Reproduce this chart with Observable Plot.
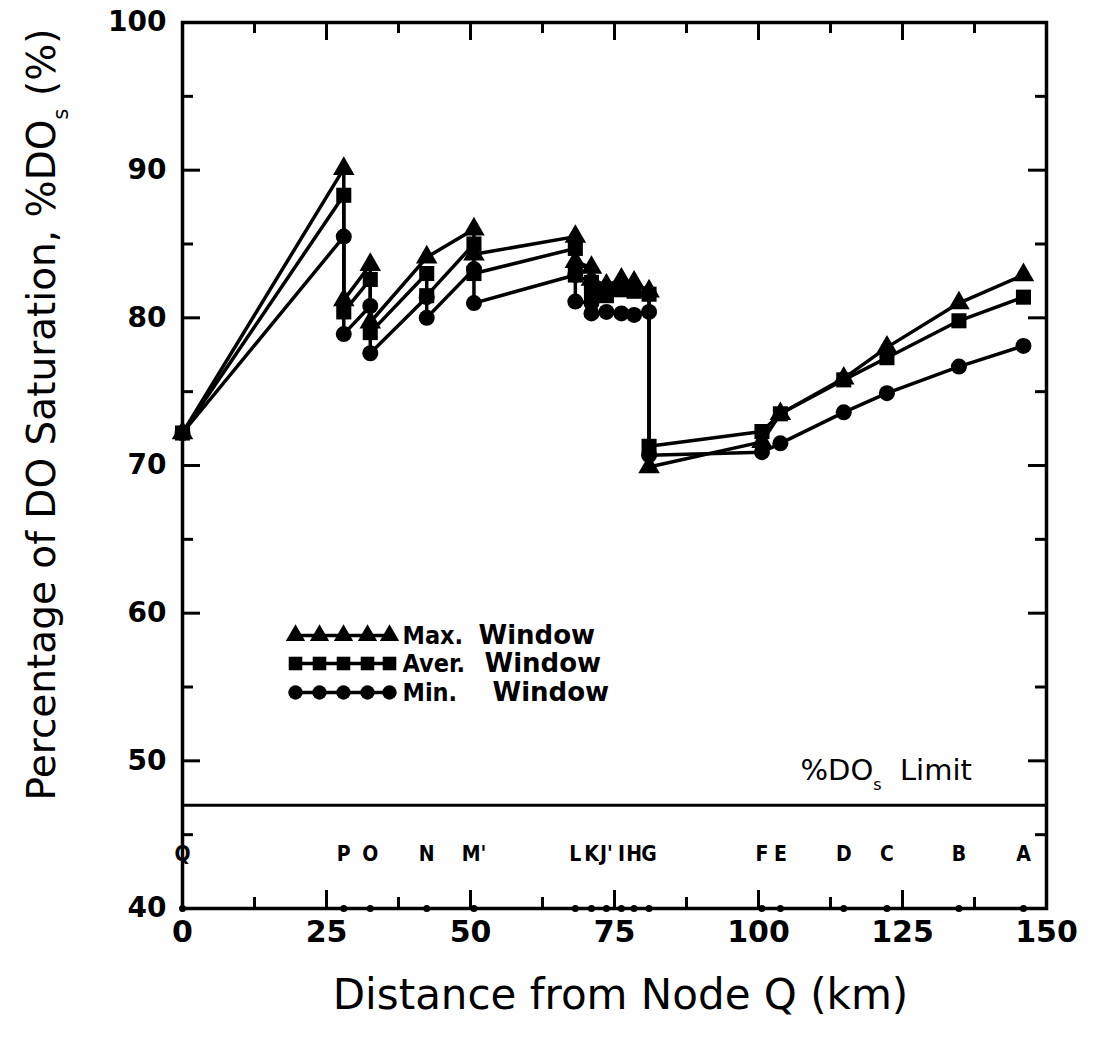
<!DOCTYPE html>
<html><head><meta charset="utf-8">
<script src="https://cdn.jsdelivr.net/npm/d3@7"></script>
<script src="https://cdn.jsdelivr.net/npm/@observablehq/plot@0.6"></script>
<style>html,body{margin:0;padding:0;background:#fff;} svg{display:block}</style>
</head><body><div id="chart"></div>
<script>
// ---- data ----
const nodes  = ["Q","P","O","N","M'","L","K","J'","I","H","G","F","E","D","C","B","A"];
const nodeKm = [0, 28, 32.6, 42.4, 50.6, 68.2, 71.0, 73.6, 76.2, 78.4, 81.0, 100.6, 103.8, 114.8, 122.3, 134.8, 146];
// value arriving at each node (In) and leaving it (Out)
const maxIn  = [72.2, 90.1, 83.6, 84.1, 86.0, 85.5, 83.4, 82.2, 82.6, 82.4, 81.8, 71.6, 73.5, 75.9, 78.0, 81.0, 82.9];
const maxOut = [72.2, 81.2, 79.7, 84.1, 84.3, 83.8, 82.6, 82.2, 82.6, 82.4, 69.9, 71.6, 73.5, 75.9, 78.0, 81.0, 82.9];
const avgIn  = [72.2, 88.3, 82.6, 83.0, 85.0, 84.7, 82.4, 81.5, 81.9, 81.8, 81.6, 72.3, 73.5, 75.8, 77.3, 79.8, 81.4];
const avgOut = [72.2, 80.4, 79.0, 81.5, 83.0, 82.9, 81.6, 81.5, 81.9, 81.8, 71.3, 72.3, 73.5, 75.8, 77.3, 79.8, 81.4];
const minIn  = [72.2, 85.5, 80.8, 81.4, 83.3, 82.9, 81.0, 80.4, 80.3, 80.2, 80.4, 70.9, 71.5, 73.6, 74.9, 76.7, 78.1];
const minOut = [72.2, 78.9, 77.6, 80.0, 81.0, 81.1, 80.3, 80.4, 80.3, 80.2, 70.7, 70.9, 71.5, 73.6, 74.9, 76.7, 78.1];
const seriesNames = ["Max.", "Aver.", "Min."];
const limitValue = 47;
const xTickValues = [0, 25, 50, 75, 100, 125, 150];
const yTickValues = [40, 50, 60, 70, 80, 90, 100];

// ---- layout ----
const W = 1098, H = 1053;
const mL = 182, mR = 52, mT = 22, mB = 145;
const kmPerPx = 150 / (W - mL - mR);
const valPerPx = 60 / (H - mT - mB);
const pxToKm = px => (px - mL) * kmPerPx;
const pxToVal = py => 100 - (py - mT) * valPerPx;

const symbols = ["triangle", "square", "circle"];
const radii = [8, 8.5, 8];
const ins = [maxIn, avgIn, minIn], outs = [maxOut, avgOut, minOut];
const pts = [];
seriesNames.forEach((s, j) => {
  nodeKm.forEach((k, i) => {
    pts.push({s, j, km: k, v: ins[j][i]});
    if (outs[j][i] !== ins[j][i]) pts.push({s, j, km: k, v: outs[j][i]});
  });
});

// ticks
const yMajor = d3.range(40, 100.1, 10), yMinor = d3.range(45, 100, 10);
const xAll = d3.range(0, 150.1, 12.5);
const xMajor = xAll.filter(d => d % 25 === 0), xMinor = xAll.filter(d => d % 25 !== 0);
const tMaj = 18, tMin = 11;

// legend (layout positions)
const legRowsV = [635, 663, 692].map(pxToVal);
const legMarkPx = [295, 319, 343, 367, 389];
const legPts = [];
seriesNames.forEach((s, j) => legMarkPx.forEach(p => legPts.push({j, km: pxToKm(p), v: legRowsV[j]})));
const legLabels = seriesNames.map((s, j) => ({label: s, v: legRowsV[j], wx: pxToKm([478, 484, 492][j])}));

const font = "DejaVu Sans";
const marks = [
  Plot.frame({stroke: "black", strokeWidth: 3.5}),
  // ticks inward
  Plot.ruleY(yMajor, {y: d => d, x1: 0, x2: tMaj * kmPerPx, strokeWidth: 3}),
  Plot.ruleY(yMinor, {y: d => d, x1: 0, x2: tMin * kmPerPx, strokeWidth: 3}),
  Plot.ruleY(yMajor, {y: d => d, x1: 150 - tMaj * kmPerPx, x2: 150, strokeWidth: 3}),
  Plot.ruleY(yMinor, {y: d => d, x1: 150 - tMin * kmPerPx, x2: 150, strokeWidth: 3}),
  Plot.ruleX(xMajor, {x: d => d, y1: 40, y2: 40 + tMaj * valPerPx, strokeWidth: 3}),
  Plot.ruleX(xMinor, {x: d => d, y1: 40, y2: 40 + tMin * valPerPx, strokeWidth: 3}),
  Plot.ruleX(xMajor, {x: d => d, y1: 100 - tMaj * valPerPx, y2: 100, strokeWidth: 3}),
  Plot.ruleX(xMinor, {x: d => d, y1: 100 - tMin * valPerPx, y2: 100, strokeWidth: 3}),
  // tick labels
  Plot.text(yTickValues, {y: d => d, frameAnchor: "left", dx: -16, textAnchor: "end", text: d => String(d), fontSize: 28, fontWeight: "bold", fontFamily: font}),
  Plot.text(xTickValues, {x: d => d, frameAnchor: "bottom", dy: 33, text: d => String(d), fontSize: 30, fontWeight: "bold", fontFamily: font}),
  // axis titles
  Plot.text(["Distance from Node Q (km)"], {frameAnchor: "bottom", dx: 6, dy: 100, fontSize: 42, letterSpacing: "1.5px", fontFamily: font}),
  Plot.text(["Percentage of DO Saturation, %DOs (%)"], {frameAnchor: "left", textAnchor: "middle", dx: -140, dy: -51, rotate: -90, fontSize: 39, fontFamily: font}),
  // limit
  Plot.ruleY([limitValue], {strokeWidth: 3}),
  Plot.text(["%DOs  Limit"], {x: pxToKm(800), y: 49.3, textAnchor: "start", fontSize: 29, fontFamily: font}),
  // node labels and node dots
  Plot.text(nodes, {x: (d, i) => nodeKm[i], y: 43.7, text: d => d, fontSize: 21, fontWeight: "bold", fontFamily: "DejaVu Sans Condensed"}),
  Plot.dot(nodeKm, {x: d => d, y: 40, r: 3.5, fill: "black"}),
  // series
  Plot.line(pts, {x: "km", y: "v", z: "s", stroke: "black", strokeWidth: 3.5}),
  ...symbols.map((sym, j) => Plot.dot(pts.filter(p => p.j === j), {x: "km", y: "v", symbol: sym, r: radii[j], fill: "black", stroke: "none"})),
  // legend
  Plot.line(legPts, {x: "km", y: "v", z: "j", stroke: "black", strokeWidth: 3.5}),
  ...symbols.map((sym, j) => Plot.dot(legPts.filter(p => p.j === j), {x: "km", y: "v", symbol: sym, r: radii[j] * 0.9, fill: "black"})),
  Plot.text(legLabels, {x: pxToKm(402), y: "v", text: "label", textAnchor: "start", fontSize: 25, fontWeight: "bold", fontFamily: "DejaVu Sans Condensed"}),
  Plot.text(legLabels, {x: "wx", y: "v", text: () => "Window", textAnchor: "start", fontSize: 26, fontWeight: "bold", letterSpacing: "1px", fontFamily: font})
];

const chart = Plot.plot({
  width: W, height: H,
  marginLeft: mL, marginRight: mR, marginTop: mT, marginBottom: mB,
  x: {domain: [0, 150], axis: null},
  y: {domain: [40, 100], axis: null},
  style: {background: "white", color: "black"},
  marks
});
document.getElementById("chart").appendChild(chart);

// subscript "s" in %DOs
d3.select(chart).selectAll("text").each(function () {
  const t = this.textContent;
  if (t.includes("%DOs")) {
    const [a, b] = t.split("%DOs");
    const el = d3.select(this);
    el.text(null);
    el.attr("xml:space", "preserve").style("white-space", "pre");
    el.append("tspan").text(a + "%DO");
    el.append("tspan").attr("baseline-shift", "sub").attr("font-size", "0.55em").text("s");
    el.append("tspan").text(b);
  }
});
</script>
</body></html>
